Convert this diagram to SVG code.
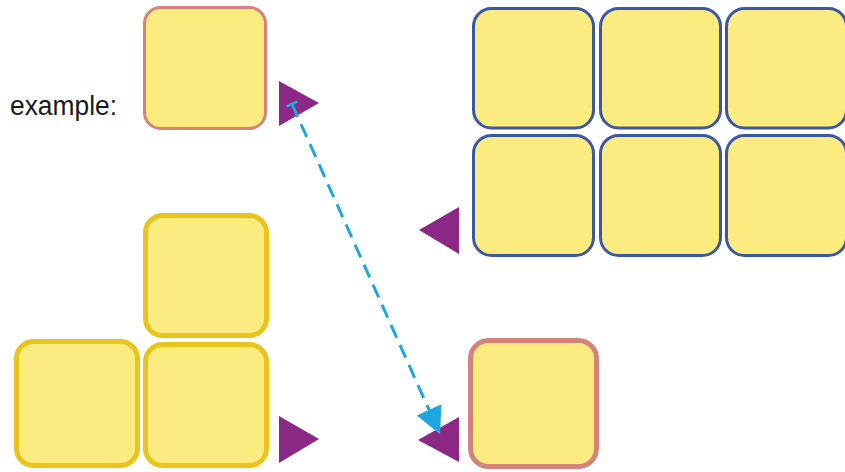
<svg xmlns="http://www.w3.org/2000/svg" width="845" height="472" viewBox="0 0 845 472">
<defs>
<style>
.cell{fill:#fcec80;}
.salmon{stroke:#d3837a;}
.blue{stroke:#3b58a5;stroke-width:3;}
.gold{stroke:#e9c41c;stroke-width:5;}
.tri{fill:#8b2785;}
.lbl{font-family:"Liberation Sans",Arial,sans-serif;font-size:27px;fill:#1a1a1a;}
.conn{stroke:#20a6df;stroke-width:3;fill:none;}
</style>
<marker id="ah" viewBox="0 0 10 10" refX="9" refY="5" markerWidth="9" markerHeight="9" markerUnits="strokeWidth" orient="auto">
<path d="M0,0 L10,5 L0,10 z" fill="#20a6df"/>
</marker>
</defs>
<rect width="845" height="472" fill="#ffffff"/>
<g id="label"><text class="lbl" x="10" y="115" textLength="107" lengthAdjust="spacingAndGlyphs">example:</text></g>
<g id="example-box"><rect class="cell salmon" x="144.5" y="7.5" width="121" height="121" rx="16" stroke-width="3"/></g>
<g id="blue-grid">
<rect class="cell blue" x="473.5" y="8.5" width="120" height="119.5" rx="18"/>
<rect class="cell blue" x="600.5" y="8.5" width="120" height="119.5" rx="18"/>
<rect class="cell blue" x="726.5" y="8.5" width="120" height="119.5" rx="18"/>
<rect class="cell blue" x="473.5" y="135.5" width="120" height="120" rx="18"/>
<rect class="cell blue" x="600.5" y="135.5" width="120" height="120" rx="18"/>
<rect class="cell blue" x="726.5" y="135.5" width="120" height="120" rx="18"/>
</g>
<g id="gold-l">
<rect class="cell gold" x="145.5" y="215.5" width="121" height="120" rx="17"/>
<rect class="cell gold" x="16.5" y="341.5" width="121" height="124" rx="17"/>
<rect class="cell gold" x="145.5" y="344.5" width="121" height="121" rx="17"/>
</g>
<g id="salmon-box"><rect class="cell salmon" x="470.5" y="340.5" width="126" height="126" rx="18" stroke-width="5"/></g>
<g id="triangles">
<polygon class="tri" points="279,81 279,126 319,103"/>
<polygon class="tri" points="459,207 459,254 419,230"/>
<polygon class="tri" points="279,416 279,463 319,439"/>
<polygon class="tri" points="459,417 459,462 418,440"/>
</g>
<g id="connectors">
<line class="conn" x1="292" y1="104" x2="439" y2="432" stroke-dasharray="14 8" marker-end="url(#ah)"/>
<line class="conn" x1="286.5" y1="106.5" x2="297.5" y2="101.5"/>
</g>
</svg>
